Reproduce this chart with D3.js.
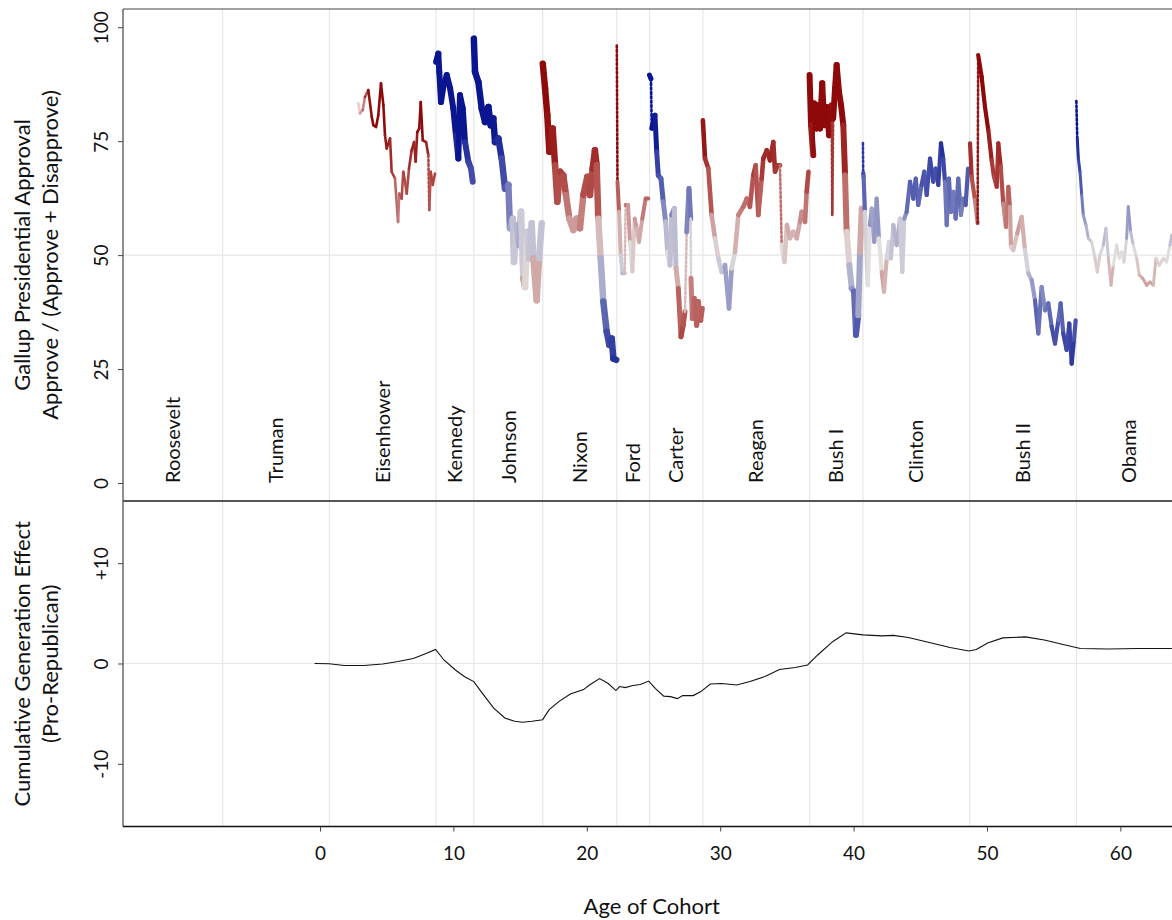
<!DOCTYPE html>
<html><head><meta charset="utf-8">
<script src="https://cdn.jsdelivr.net/npm/d3@7"></script>
<style>
body{margin:0;background:#fff}
svg{display:block}
text{font-family:Lato,"Noto Sans",sans-serif;fill:#111}
</style>
</head><body>
<svg id="chart" width="1172" height="920"></svg>
<script>
// ---------------- DATA ----------------
const presidents = ["Roosevelt","Truman","Eisenhower","Kennedy","Johnson","Nixon","Ford","Carter","Reagan","Bush I","Clinton","Bush II","Obama"];
const parties    = ["D","D","R","D","D","R","R","D","R","R","D","R","D"];
// age of cohort at which each presidency starts (Roosevelt starts before the plotted range)
const startAges  = [null,-7.29,0.70,8.70,11.53,16.70,22.25,24.70,28.70,36.70,40.70,48.70,56.70];

const topTicks = [0,25,50,75,100];
const bottomTicks = [-10,0,10];
const bottomTickLabels = ["-10","0","+10"];
const xTicks = [0,10,20,30,40,50,60];

// Gallup approval, approve/(approve+disapprove): [age of cohort, approval]
const eisenhower = [[2.87,83.3],[3.00,81.1],[3.20,81.8],[3.37,84.7],[3.62,86.2],[3.88,80.3],[4.00,78.5],[4.20,78.1],[4.37,80.7],[4.57,87.7],[4.75,82.9],[4.87,76.3],[5.00,73.4],[5.25,75.6],[5.37,68.3],[5.62,66.8],[5.85,57.3],[5.94,63.5],[6.12,62.4],[6.24,68.3],[6.37,66.1],[6.50,63.5],[6.67,69.0],[6.87,73.0],[7.05,74.8],[7.17,70.5],[7.29,77.0],[7.44,77.8],[7.55,83.6],[7.70,75.2],[7.95,74.8],[8.12,71.9],[8.19,59.9],[8.30,68.3],[8.45,65.4],[8.62,67.9]];
const kennedy = [[8.70,92.4],[8.87,94.2],[8.94,90.2],[9.07,83.6],[9.24,86.9],[9.50,89.5],[9.75,86.6],[9.99,82.2],[10.19,76.3],[10.37,71.2],[10.49,85.1],[10.70,82.2],[10.87,74.8],[11.12,70.5],[11.32,69.0],[11.45,66.1]];
const johnson = [[11.53,97.5],[11.62,90.2],[11.87,88.0],[12.12,82.2],[12.37,79.2],[12.62,82.5],[12.80,78.5],[12.99,80.0],[13.12,74.8],[13.37,75.6],[13.62,71.2],[13.87,64.6],[14.12,65.4],[14.24,55.9],[14.45,58.0],[14.54,48.5],[14.75,56.6],[14.94,52.2],[15.07,59.5],[15.24,44.9],[15.37,43.0],[15.54,55.1],[15.69,49.3],[15.87,57.0],[15.99,49.3],[16.24,40.1],[16.42,49.3],[16.62,57.0]];
const nixon = [[16.70,92.0],[16.87,86.6],[17.04,80.7],[17.19,72.7],[17.44,77.8],[17.62,69.7],[17.79,61.7],[17.99,68.3],[18.24,67.5],[18.44,63.2],[18.69,58.0],[18.99,55.5],[19.24,58.0],[19.49,55.9],[19.74,63.2],[20.04,67.2],[20.24,63.2],[20.44,69.0],[20.61,73.0],[20.74,69.7],[20.86,58.0],[21.04,49.3],[21.24,39.8],[21.49,33.2],[21.69,30.3],[21.87,31.7],[21.99,27.3],[22.20,27.0]];
const ford = [[22.25,96.0],[22.30,66.1],[22.42,59.5],[22.54,50.0],[22.66,46.0],[22.84,46.0],[22.91,61.0],[23.09,61.0],[23.24,52.9],[23.41,46.4],[23.59,58.0],[23.74,55.9],[23.91,52.9],[24.16,58.0],[24.41,62.4],[24.61,62.4]];
const carter = [[24.70,89.5],[24.81,88.7],[24.87,77.8],[25.11,80.7],[25.24,72.7],[25.36,67.5],[25.56,66.8],[25.73,61.7],[25.91,57.3],[26.06,50.7],[26.24,47.8],[26.36,58.8],[26.56,60.2],[26.69,47.1],[26.86,42.7],[27.06,32.1],[27.23,34.6],[27.36,37.6],[27.49,55.1],[27.66,64.6],[27.79,58.0],[27.81,44.9],[27.91,36.1],[28.06,40.5],[28.24,34.6],[28.36,39.8],[28.54,35.7],[28.66,38.3]];
const reagan = [[28.70,79.6],[28.86,71.2],[29.11,69.0],[29.36,58.8],[29.61,53.7],[29.86,49.3],[30.11,46.3],[30.36,47.8],[30.66,38.3],[30.86,47.1],[31.11,50.7],[31.36,58.8],[31.73,60.6],[31.99,62.4],[32.23,60.6],[32.48,67.5],[32.66,69.7],[32.86,58.8],[33.11,66.8],[33.23,71.2],[33.49,73.0],[33.73,70.8],[33.98,74.8],[34.11,68.3],[34.31,69.7],[34.48,69.7],[34.61,52.2],[34.81,48.5],[35.00,56.6],[35.23,53.7],[35.48,55.1],[35.73,53.7],[35.98,57.3],[36.11,59.5],[36.36,57.3],[36.48,63.9],[36.62,68.3]];
const bush1 = [[36.70,89.5],[36.81,78.5],[36.98,71.9],[37.05,83.3],[37.23,77.8],[37.35,82.9],[37.48,77.8],[37.65,87.7],[37.80,78.5],[37.98,82.5],[38.17,76.3],[38.36,82.9],[38.40,58.8],[38.47,80.0],[38.61,86.6],[38.73,91.7],[38.91,85.8],[39.06,82.9],[39.23,78.5],[39.36,67.5],[39.48,55.1],[39.68,47.8],[39.86,42.7],[40.03,42.0],[40.18,32.5],[40.35,36.8],[40.48,50.7],[40.61,60.2]];
const clinton = [[40.70,74.6],[40.72,68.0],[40.75,67.2],[40.85,59.5],[41.06,43.4],[41.23,56.6],[41.36,60.2],[41.55,52.9],[41.73,62.4],[41.90,53.7],[42.11,46.3],[42.28,42.0],[42.48,49.3],[42.65,52.9],[42.80,49.3],[42.98,56.6],[43.23,52.2],[43.48,58.0],[43.65,46.3],[43.80,58.0],[43.98,59.5],[44.23,66.1],[44.48,62.4],[44.66,66.8],[44.85,61.0],[45.10,65.4],[45.30,68.3],[45.48,63.2],[45.73,71.2],[45.97,66.1],[46.15,69.0],[46.35,65.4],[46.55,74.5],[46.72,71.2],[46.85,66.1],[46.98,56.6],[47.15,66.8],[47.30,59.5],[47.48,63.9],[47.65,58.0],[47.85,66.8],[48.05,58.8],[48.22,62.4],[48.40,61.0],[48.58,69.0]];
const bush2 = [[48.73,74.5],[48.85,67.2],[49.10,62.1],[49.30,57.0],[49.34,93.9],[49.60,89.1],[49.85,82.5],[50.10,77.4],[50.35,70.8],[50.52,67.2],[50.73,65.0],[50.85,74.5],[51.03,69.4],[51.22,61.3],[51.42,56.2],[51.60,65.0],[51.72,60.6],[51.80,51.8],[51.97,51.1],[52.27,54.8],[52.60,58.4],[52.85,51.1],[53.10,46.0],[53.35,44.5],[53.60,40.1],[53.85,32.8],[54.10,43.0],[54.35,37.9],[54.60,39.4],[54.85,34.3],[55.10,30.6],[55.35,35.7],[55.52,39.4],[55.72,32.8],[55.97,29.2],[56.17,35.0],[56.35,26.2],[56.52,31.4],[56.65,35.7]];
const obama = [[56.70,83.8],[56.77,75.6],[56.85,71.2],[56.97,68.3],[57.10,63.2],[57.22,58.8],[57.42,56.6],[57.60,53.7],[57.85,52.9],[58.10,49.3],[58.27,46.3],[58.47,50.0],[58.72,52.2],[58.92,55.9],[59.10,49.3],[59.30,43.4],[59.47,47.8],[59.72,52.2],[59.92,49.3],[60.10,50.7],[60.27,48.5],[60.47,53.7],[60.59,60.6],[60.77,55.1],[60.97,52.2],[61.22,49.3],[61.42,45.6],[61.67,44.9],[61.97,43.4],[62.22,44.1],[62.47,43.4],[62.67,49.3],[62.92,47.8],[63.22,49.3],[63.47,48.5],[63.72,52.2],[63.85,54.4]];

// Cumulative generation effect (pro-Republican)
const cumAges   = [-0.40,0.68,1.83,3.27,4.70,5.85,6.99,7.86,8.66,9.29,10.15,10.87,11.53,12.16,13.02,13.88,14.60,15.17,15.89,16.69,17.18,17.90,18.76,19.76,20.20,20.96,21.61,22.18,22.46,22.89,23.45,24.02,24.64,25.15,25.77,26.28,26.79,27.19,27.56,27.98,28.55,29.26,30.11,31.24,32.23,33.36,34.44,35.62,36.55,37.31,38.45,39.44,40.71,42.13,42.98,44.11,45.52,47.23,48.64,49.20,50.05,51.18,52.88,54.30,55.71,57.00,59.10,61.37,63.86];
const cumEffect = [0.00,-0.03,-0.20,-0.20,-0.05,0.20,0.50,0.95,1.40,0.35,-0.65,-1.35,-1.80,-2.95,-4.45,-5.45,-5.75,-5.85,-5.75,-5.60,-4.60,-3.80,-3.05,-2.60,-2.15,-1.50,-2.00,-2.70,-2.30,-2.40,-2.20,-2.10,-1.75,-2.50,-3.25,-3.30,-3.50,-3.20,-3.20,-3.20,-2.80,-2.05,-2.00,-2.15,-1.80,-1.30,-0.60,-0.40,-0.15,0.85,2.20,3.05,2.85,2.75,2.80,2.60,2.15,1.60,1.25,1.40,2.05,2.55,2.65,2.35,1.90,1.50,1.45,1.50,1.50];

const approvalSeries = [null,null,eisenhower,kennedy,johnson,nixon,ford,carter,reagan,bush1,clinton,bush2,obama];

// ---------------- LAYOUT / STYLE ----------------
const L = 123, R = 1180.4, T = 9, MID = 501, B = 826.5;
const svg = d3.select("#chart");
const x = d3.scaleLinear().domain([-14.77, 64.5]).range([L, R]);
const yTop = d3.scaleLinear().domain([-3.95, 104]).range([MID, T]);
const yBot = d3.scaleLinear().domain([-16.25, 16.2]).range([B, MID]);
const color = d3.scaleLinear().domain([-28, -14, 0, 14, 28])
  .range(["#0a1690", "#5660b0", "#e2dede", "#b55450", "#8e0a0a"]).clamp(true);
const widths = {Eisenhower:2.6,Kennedy:6,Johnson:6.5,Nixon:6.5,Ford:4,Carter:5,Reagan:4.6,"Bush I":6,Clinton:4.2,"Bush II":4.2,Obama:3};
const grid = "#e6e6e6";

svg.append("defs").append("clipPath").attr("id","clipTop")
  .append("rect").attr("x",L).attr("y",T).attr("width",R-L).attr("height",MID-T);

// gridlines
const gv = svg.append("g");
startAges.forEach(a => {
  if (a === null) return;
  gv.append("line").attr("x1",x(a)).attr("x2",x(a)).attr("y1",T).attr("y2",B)
    .attr("stroke",grid).attr("stroke-width",1.2);
});
gv.append("line").attr("x1",L).attr("x2",R).attr("y1",yTop(50)).attr("y2",yTop(50)).attr("stroke",grid).attr("stroke-width",1.2);
gv.append("line").attr("x1",L).attr("x2",R).attr("y1",yBot(0)).attr("y2",yBot(0)).attr("stroke",grid).attr("stroke-width",1.2);

// president labels
presidents.forEach((p,i) => {
  const a0 = startAges[i] === null ? x.domain()[0] : startAges[i];
  const a1 = i < presidents.length-1 ? startAges[i+1] : x.domain()[1];
  const mx = x((a0+a1)/2);
  svg.append("text").attr("transform",`translate(${mx},${yTop(0)}) rotate(-90)`)
    .attr("dy","0.36em").attr("text-anchor","start").style("font-size","20px").text(p);
});

// approval segments
const dataG = svg.append("g").attr("clip-path","url(#clipTop)");
approvalSeries.forEach((ser,i) => {
  if (!ser) return;
  const party = parties[i];
  const score = v => party === "R" ? v - 50 : 50 - v;
  const w = widths[presidents[i]];
  for (let k = 0; k < ser.length-1; k++) {
    const [a1,v1] = ser[k], [a2,v2] = ser[k+1];
    const dx = Math.abs(x(a2)-x(a1)), dy = Math.abs(yTop(v2)-yTop(v1));
    const jump = dy > 25 && dy > 40*dx;
    const fade = Math.max(0.2, Math.min(1, (a1 - 2.75) / 0.9));
    dataG.append("line")
      .attr("x1",x(a1)).attr("y1",yTop(v1)).attr("x2",x(a2)).attr("y2",yTop(v2))
      .attr("stroke",color((score(v1)+score(v2))/2))
      .attr("stroke-width", jump ? 2.6 : w)
      .attr("stroke-linecap","round")
      .attr("stroke-dasharray", jump ? "2,2.4" : null)
      .attr("opacity", fade);
  }
});

// cumulative effect line
const cum = cumAges.map((a,i)=>[a,cumEffect[i]]);
svg.append("path").datum(cum)
  .attr("d", d3.line().x(d=>x(d[0])).y(d=>yBot(d[1])))
  .attr("fill","none").attr("stroke","#111").attr("stroke-width",1.1);

// frames
svg.append("line").attr("x1",L).attr("x2",R).attr("y1",T).attr("y2",T).attr("stroke","#444").attr("stroke-width",1);
svg.append("line").attr("x1",L).attr("x2",L).attr("y1",T).attr("y2",B).attr("stroke","#444").attr("stroke-width",1.2);
svg.append("line").attr("x1",L).attr("x2",R).attr("y1",MID).attr("y2",MID).attr("stroke","#555").attr("stroke-width",1.8);
svg.append("line").attr("x1",L).attr("x2",R).attr("y1",B).attr("y2",B).attr("stroke","#111").attr("stroke-width",1.4);

// axes
function styleAxis(g){ g.select(".domain").remove(); g.selectAll(".tick line").attr("stroke","#444"); }
const axTop = svg.append("g").attr("transform",`translate(${L},0)`)
  .call(d3.axisLeft(yTop).tickValues(topTicks).tickSize(5).tickFormat(d3.format("d")));
styleAxis(axTop);
axTop.selectAll(".tick text").attr("transform","rotate(-90)").attr("x",0).attr("y",-15).attr("dy",0)
  .attr("text-anchor","middle").style("font-size","19px").style("font-family","Lato,sans-serif").attr("fill","#111");

const axBot = svg.append("g").attr("transform",`translate(${L},0)`)
  .call(d3.axisLeft(yBot).tickValues(bottomTicks).tickSize(5).tickFormat((d,i)=>bottomTickLabels[i]));
styleAxis(axBot);
axBot.selectAll(".tick text").attr("transform","rotate(-90)").attr("x",0).attr("y",-15).attr("dy",0)
  .attr("text-anchor","middle").style("font-size","19px").style("font-family","Lato,sans-serif").attr("fill","#111");

const axX = svg.append("g").attr("transform",`translate(0,${B})`)
  .call(d3.axisBottom(x).tickValues(xTicks).tickSize(5).tickFormat(d3.format("d")));
styleAxis(axX);
axX.selectAll(".tick text").attr("y",20).attr("dy","0.71em").style("font-size","19px").style("font-family","Lato,sans-serif").attr("fill","#111");

// titles
svg.append("text").attr("x",(L+R)/2).attr("y",914).attr("text-anchor","middle").style("font-size","22px").text("Age of Cohort");
function vtitle(cx, cy, txt){
  svg.append("text").attr("transform",`translate(${cx},${cy}) rotate(-90)`).attr("text-anchor","middle")
    .attr("dy","0.36em").style("font-size","22px").text(txt);
}
vtitle(22,(T+MID)/2,"Gallup Presidential Approval");
vtitle(50,(T+MID)/2,"Approve / (Approve + Disapprove)");
vtitle(22,(MID+B)/2,"Cumulative Generation Effect");
vtitle(50,(MID+B)/2,"(Pro-Republican)");
</script>
</body></html>
